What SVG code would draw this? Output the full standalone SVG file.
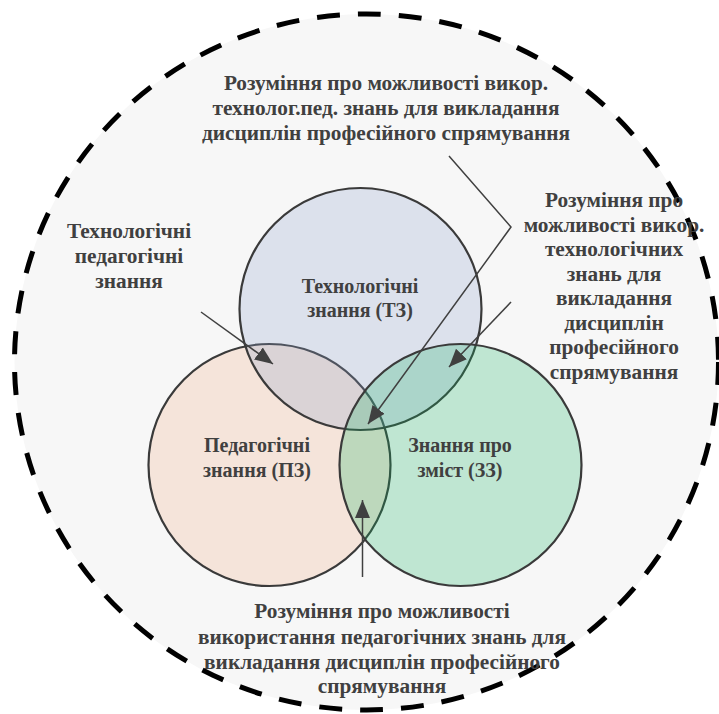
<svg xmlns="http://www.w3.org/2000/svg" width="719" height="714" viewBox="0 0 719 714">
<defs>
<style>
.t{font-family:"Liberation Serif","Times New Roman",serif;font-weight:bold;font-size:20px;fill:#404040;text-anchor:middle}
.n{font-size:21.3px}
.c{stroke:#3a3a3a;stroke-width:2.2}
.a{fill:none;stroke:#404040;stroke-width:1.5}
</style>
<marker id="ah" markerUnits="userSpaceOnUse" markerWidth="20" markerHeight="20" viewBox="0 0 20 20" refX="18" refY="10" orient="auto">
<path d="M0,2.5 L18,10 L0,17.5 Z" fill="#404040"/>
</marker>
</defs>
<rect width="719" height="714" fill="#ffffff"/>
<g id="outer">
<ellipse cx="366.5" cy="362" rx="352" ry="348" fill="#f7f7f7" stroke="#000" stroke-width="5" stroke-dasharray="23 18"/>
</g>
<g id="pz">
<circle class="c" cx="269.5" cy="465" r="121" fill="#f0ac84" fill-opacity="0.25"/>
</g>
<g id="tz">
<circle class="c" cx="360.5" cy="309" r="121" fill="#8aa0cc" fill-opacity="0.25"/>
</g>
<g id="zz">
<circle class="c" cx="460.5" cy="465" r="121" fill="#18b464" fill-opacity="0.25"/>
</g>
<g id="connectors">
<path class="a" d="M201,312 L273,364" marker-end="url(#ah)"/>
<path class="a" d="M449,156 L511,227 L368,424" marker-end="url(#ah)"/>
<path class="a" d="M511,302 L449,367" marker-end="url(#ah)"/>
<path class="a" d="M362.5,577 L362.5,500" stroke-width="2" marker-end="url(#ah)"/>
</g>
<g id="label-tz">
<text class="t" x="360" y="293">Технологічні</text>
<text class="t" x="360" y="317">знання (ТЗ)</text>
</g>
<g id="label-pz">
<text class="t" x="257" y="452">Педагогічні</text>
<text class="t" x="257" y="477">знання (ПЗ)</text>
</g>
<g id="label-zz">
<text class="t" x="460" y="452">Знання про</text>
<text class="t" x="460" y="477">зміст (ЗЗ)</text>
</g>
<g id="label-tpz">
<text class="t n" x="129" y="238">Технологічні</text>
<text class="t n" x="129" y="263">педагогічні</text>
<text class="t n" x="129" y="288">знання</text>
</g>
<g id="label-top">
<text class="t n" x="386" y="90">Розуміння про можливості викор.</text>
<text class="t n" x="386" y="115">технолог.пед. знань для викладання</text>
<text class="t n" x="386" y="140">дисциплін професійного спрямування</text>
</g>
<g id="label-right">
<text class="t n" x="614" y="207">Розуміння про</text>
<text class="t n" x="614" y="232">можливості викор.</text>
<text class="t n" x="614" y="256">технологічних</text>
<text class="t n" x="614" y="281">знань для</text>
<text class="t n" x="614" y="305">викладання</text>
<text class="t n" x="614" y="330">дисциплін</text>
<text class="t n" x="614" y="354">професійного</text>
<text class="t n" x="614" y="379">спрямування</text>
</g>
<g id="label-bottom">
<text class="t n" x="382" y="618">Розуміння про можливості</text>
<text class="t n" x="382" y="644">використання педагогічних знань для</text>
<text class="t n" x="382" y="669">викладання дисциплін професійного</text>
<text class="t n" x="382" y="693">спрямування</text>
</g>
</svg>
